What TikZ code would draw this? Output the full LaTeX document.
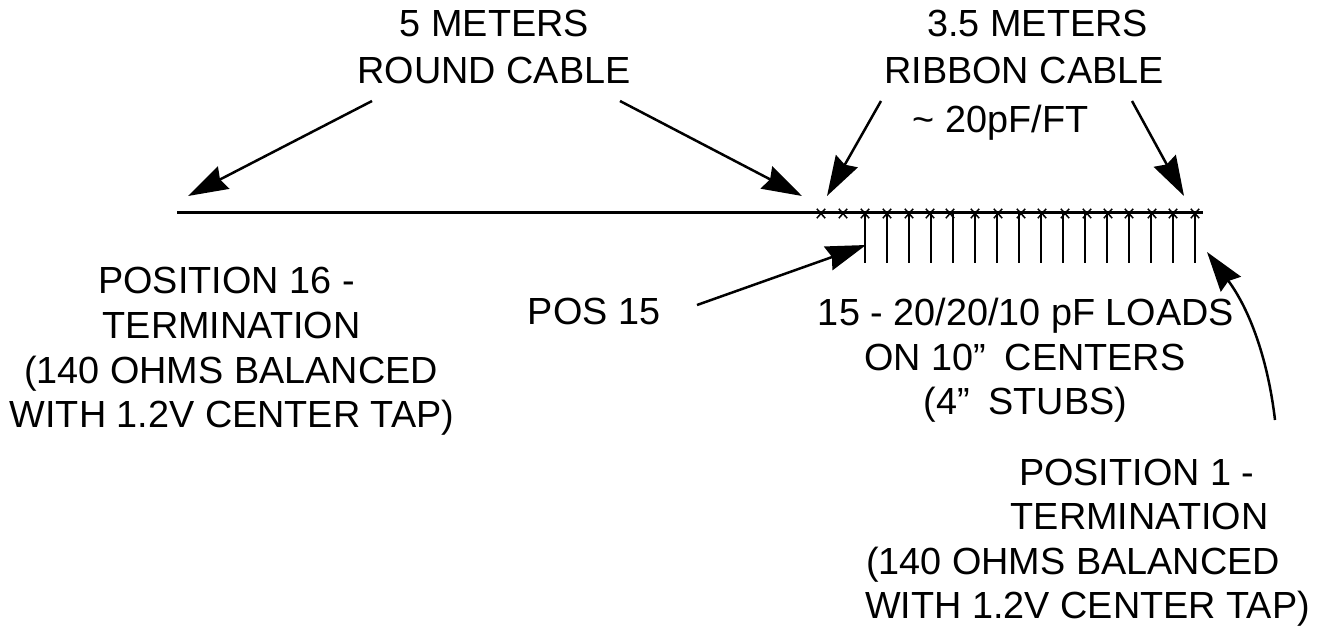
\documentclass[tikz,border=0pt]{standalone}
\usepackage{fontspec}
\setmainfont{Liberation Sans}
\usetikzlibrary{arrows.meta}
\tikzset{
  lbl/.style={inner sep=0pt,font=\fontsize{37.8}{44.6}\selectfont,anchor=base},
  wire/.style={line width=2.8pt},
  stub/.style={line width=2.3pt},
  cross/.style={line width=1.5pt},
  call/.style={line width=2.5pt,-{Stealth[length=40pt,width=25pt,inset=4pt]}},
}
\begin{document}
\begin{tikzpicture}[x=1pt,y=-1pt]
\useasboundingbox (0,0) rectangle (1327,626);
\node[lbl] (roundA) at (494.5,37) {5 METERS};
\node[lbl] (roundB) at (494,84) {ROUND CABLE};
\node[lbl] (ribA) at (1037.6,37) {3.5 METERS};
\node[lbl] (ribB) at (1024,84) {RIBBON CABLE};
\node[lbl] (ribC) at (1000.5,132) {\textasciitilde\ 20pF/FT};
\node[lbl] (pA) at (226.5,293) {POSITION 16 -};
\node[lbl] (pB) at (231.5,338) {TERMINATION};
\node[lbl] (pC) at (231,383) {(140 OHMS BALANCED};
\node[lbl] (pD) at (232,427) {WITH 1.2V CENTER TAP)};
\node[lbl] (pos15) at (594,324) {POS 15};
\node[lbl] (loadA) at (1026,325) {15 - 20/20/10 pF LOADS};
\node[lbl] (loadB) at (1025,370) {ON 10”\hspace{8pt} CENTERS};
\node[lbl] (loadC) at (1025.5,414) {(4”\hspace{8pt} STUBS)};
\node[lbl] (qA) at (1136.7,485) {POSITION 1 -};
\node[lbl] (qB) at (1139.5,529.5) {TERMINATION};
\node[lbl] (qC) at (1073,574) {(140 OHMS BALANCED};
\node[lbl] (qD) at (1087.5,618) {WITH 1.2V CENTER TAP)};
% main line
\coordinate (lineL) at (177,212.7);
\coordinate (lineR) at (1203,212.7);
\draw[wire] (lineL) -- (lineR);
% load crosses
\foreach \i/\x in {1/821,2/843,3/865,4/887,5/909,6/930,7/950,8/975,9/998,10/1021,11/1042,12/1065,13/1087,14/1108,15/1129,16/1152,17/1173,18/1195}{
  \coordinate (xc\i) at (\x,213.5);
  \draw[cross] ([shift={(-4.2,-4.7)}]xc\i) -- ([shift={(4.2,4.7)}]xc\i) ([shift={(4.2,-4.7)}]xc\i) -- ([shift={(-4.2,4.7)}]xc\i);
}
% stubs
\foreach \i/\x in {1/865,2/887,3/909,4/931,5/953,6/975,7/997,8/1019,9/1041,10/1063,11/1085,12/1107,13/1129,14/1151,15/1173,16/1195}{
  \coordinate (st\i) at (\x,212.7);
  \coordinate (sb\i) at (\x,263);
  \draw[stub] (st\i) -- (sb\i);
}
% callouts
\coordinate (a1s) at (372,101); \coordinate (a1e) at (188,196);
\coordinate (a2s) at (620,101); \coordinate (a2e) at (802,196);
\coordinate (a3s) at (881,101); \coordinate (a3e) at (827,196);
\coordinate (a4s) at (1132,101); \coordinate (a4e) at (1184,196);
\coordinate (a5s) at (697,305); \coordinate (a5e) at (866,245);
\coordinate (a6s) at (1275,420); \coordinate (a6e) at (1207,252);
\draw[call] (a1s) -- (a1e);
\draw[call] (a2s) -- (a2e);
\draw[call] (a3s) -- (a3e);
\draw[call] (a4s) -- (a4e);
\draw[call] (a5s) -- (a5e);
\draw[call] (a6s) .. controls (1268,360) and (1250,310) .. (a6e);
\end{tikzpicture}
\end{document}
